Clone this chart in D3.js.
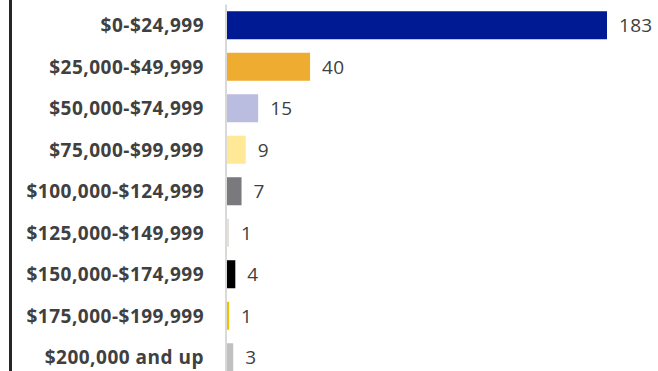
<!DOCTYPE html>
<html>
<head>
<meta charset="utf-8">
<script src="https://cdn.jsdelivr.net/npm/d3@7"></script>
<style>
  html, body { margin: 0; padding: 0; background: #fff; }
  svg { display: block; }
</style>
</head>
<body>
<svg id="chart" width="658" height="371"></svg>
<script>
// Household income brackets and their counts
const categories = [
  "$0-$24,999",
  "$25,000-$49,999",
  "$50,000-$74,999",
  "$75,000-$99,999",
  "$100,000-$124,999",
  "$125,000-$149,999",
  "$150,000-$174,999",
  "$175,000-$199,999",
  "$200,000 and up"
];
const counts = [183, 40, 15, 9, 7, 1, 4, 1, 3];
const barColors = [
  "#001a94", "#eead30", "#bbbde0", "#ffe896", "#7a7a7e",
  "#e6e1d6", "#000000", "#f0c000", "#c0c0c0"
];

const svg = d3.select("#chart");
const x0 = 227;

const x = d3.scaleLinear()
  .domain([0, 183])
  .range([x0, 607]);

const y = d3.scaleBand()
  .domain(categories)
  .range([4.5, 378])
  .paddingInner(0.325)
  .paddingOuter(0.1625);

// outer frame line on the left
svg.append("rect")
  .attr("x", 9).attr("y", 0)
  .attr("width", 3).attr("height", 371)
  .attr("fill", "#262626");

// bars
svg.selectAll("rect.bar")
  .data(counts)
  .join("rect")
  .attr("class", "bar")
  .attr("x", x(0))
  .attr("y", (d, i) => y(categories[i]))
  .attr("width", d => x(d) - x(0))
  .attr("height", y.bandwidth())
  .attr("fill", (d, i) => barColors[i]);

// category axis
const axis = svg.append("g")
  .attr("transform", `translate(${x0 - 1},0)`)
  .call(d3.axisLeft(y).tickSize(0).tickPadding(22));
axis.select(".domain")
  .attr("stroke", "#d9d9d9")
  .attr("stroke-width", 2)
  .attr("d", `M0,4.5V371`);
axis.selectAll("text")
  .attr("font-family", "'Open Sans', sans-serif")
  .attr("font-weight", "bold")
  .attr("font-size", 19)
  .attr("letter-spacing", 0.5)
  .attr("dy", "0.37em")
  .attr("fill", "#404040");

// value labels
svg.selectAll("text.value")
  .data(counts)
  .join("text")
  .attr("class", "value")
  .attr("x", d => x(d) + 12)
  .attr("y", (d, i) => y(categories[i]) + y.bandwidth() / 2)
  .attr("dy", "0.37em")
  .attr("font-family", "'Open Sans', sans-serif")
  .attr("font-size", 19)
  .attr("letter-spacing", 0.3)
  .attr("fill", "#404040")
  .text(d => d);
</script>
</body>
</html>
